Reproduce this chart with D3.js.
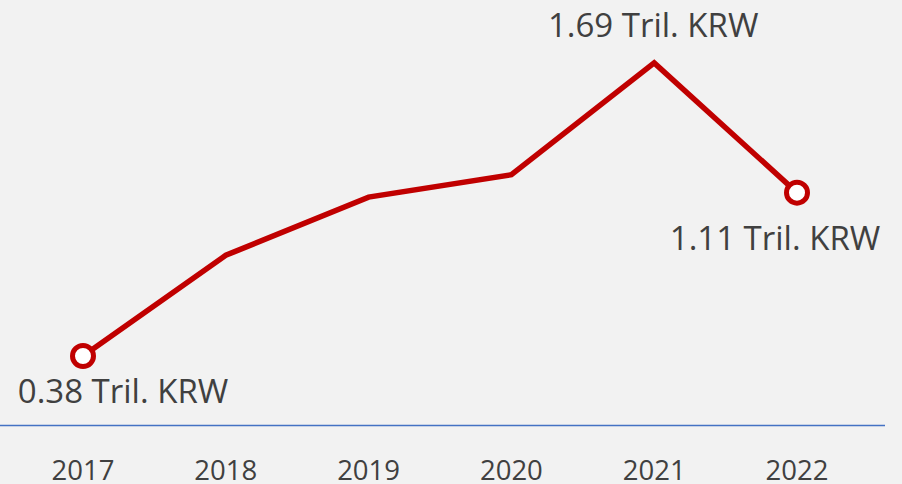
<!DOCTYPE html>
<html>
<head>
<meta charset="utf-8">
<script src="https://cdn.jsdelivr.net/npm/d3@7"></script>
<style>
  html, body { margin: 0; padding: 0; background: #f2f2f2; }
  text { font-family: "Open Sans", "Noto Sans", sans-serif; fill: #404040; }
</style>
</head>
<body>
<svg id="chart"></svg>
<script>
// data
const years = ['2017', '2018', '2019', '2020', '2021', '2022']
const values = [0.38, 0.83, 1.09, 1.19, 1.69, 1.11]
// which points get a label
const labelled = [0, 4, 5]

let w = 902, h = 484

let svg = d3.select('#chart')
    .attr('width', w)
    .attr('height', h)

svg.append('rect')
    .attr('width', w)
    .attr('height', h)
    .attr('fill', '#f2f2f2')

let xScale = d3.scalePoint()
    .domain(years)
    .range([83, 797])

let yScale = d3.scaleLinear()
    .domain([0, 2])
    .range([441, -6.5])

let data = years.map((y, i) => ({year: y, value: values[i], i: i}))

// category axis line
svg.append('line')
    .attr('x1', 0)
    .attr('x2', 885)
    .attr('y1', 425.5)
    .attr('y2', 425.5)
    .attr('stroke', '#4472c4')
    .attr('stroke-width', 1.5)

// year labels
svg.selectAll('.year')
    .data(years)
    .enter().append('text')
    .attr('class', 'year')
    .attr('x', d => xScale(d))
    .attr('y', 480)
    .attr('text-anchor', 'middle')
    .style('font-size', '27.5px')
    .text(d => d)

// line
let line = d3.line()
    .x(d => xScale(d.year))
    .y(d => yScale(d.value))

svg.append('path')
    .datum(data)
    .attr('d', line)
    .attr('fill', 'none')
    .attr('stroke', '#c00000')
    .attr('stroke-width', 5.5)
    .attr('stroke-linejoin', 'miter')

// end markers
svg.selectAll('.marker')
    .data([data[0], data[data.length - 1]])
    .enter().append('circle')
    .attr('class', 'marker')
    .attr('cx', d => xScale(d.year))
    .attr('cy', d => yScale(d.value))
    .attr('r', 10.5)
    .attr('fill', '#ffffff')
    .attr('stroke', '#c00000')
    .attr('stroke-width', 5)

// value labels (offsets from the point)
let offsets = {0: [40, 47], 4: [-1, -26], 5: [-22, 57]}
svg.selectAll('.vlabel')
    .data(data.filter(d => labelled.includes(d.i)))
    .enter().append('text')
    .attr('class', 'vlabel')
    .attr('x', d => xScale(d.year) + offsets[d.i][0])
    .attr('y', d => yScale(d.value) + offsets[d.i][1])
    .attr('text-anchor', 'middle')
    .style('font-size', '33px')
    .text(d => d3.format('.2f')(d.value) + ' Tril. KRW')
</script>
</body>
</html>
